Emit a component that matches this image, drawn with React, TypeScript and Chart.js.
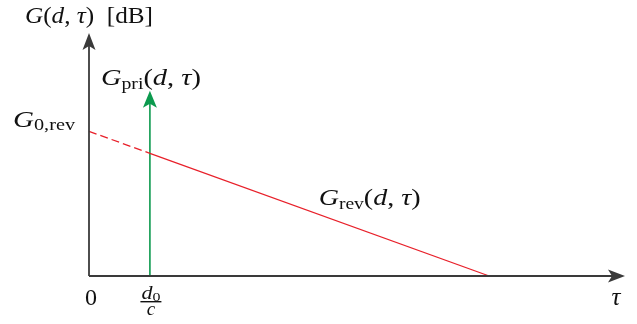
import React, { useEffect, useRef } from "react";
import { Chart, registerables } from "chart.js";

Chart.register(...registerables);

// Data (schematic units: tau in units of d0/c, gain in arbitrary dB units)
const revTau = [0, 1, 6.57];
const revGain = [10, 8.48, 0];
const priTau = [1, 1];
const priGain = [0, 12.8];
const axisTau = [0, 8.8];
const axisGain = [0, 16.8];
const xTickTau = [0, 1];

const RED = "#e8202a";
const GREEN = "#0c9a4e";
const AXIS = "#3a3a3a";
const SERIF = '"Liberation Serif", "DejaVu Serif", serif';

type Run = { t: string; it?: boolean; size?: number; dy?: number };

// draws runs starting at x (left) on baseline y; optional width to fit
function drawRuns(ctx: CanvasRenderingContext2D, x: number, y: number, runs: Run[], width?: number, align: "left" | "center" = "left") {
  const font = (r: Run) => `${r.it ? "italic " : ""}${r.size ?? 23}px ${SERIF}`;
  let total = 0;
  for (const r of runs) {
    ctx.font = font(r);
    total += ctx.measureText(r.t).width;
  }
  const sx = width ? width / total : 1;
  const w = total * sx;
  const left = align === "center" ? x - w / 2 : x;
  ctx.save();
  ctx.translate(left, y);
  ctx.scale(sx, 1);
  ctx.textBaseline = "alphabetic";
  ctx.textAlign = "left";
  let cx = 0;
  for (const r of runs) {
    ctx.font = font(r);
    ctx.fillText(r.t, cx, r.dy ?? 0);
    cx += ctx.measureText(r.t).width;
  }
  ctx.restore();
}

function arrowHead(ctx: CanvasRenderingContext2D, tx: number, ty: number, dir: "up" | "right", color: string, len = 17, half = 7, notch = 4) {
  ctx.save();
  ctx.fillStyle = color;
  ctx.beginPath();
  if (dir === "up") {
    ctx.moveTo(tx, ty);
    ctx.lineTo(tx - half, ty + len);
    ctx.lineTo(tx, ty + len - notch);
    ctx.lineTo(tx + half, ty + len);
  } else {
    ctx.moveTo(tx, ty);
    ctx.lineTo(tx - len, ty - half);
    ctx.lineTo(tx - len + notch, ty);
    ctx.lineTo(tx - len, ty + half);
  }
  ctx.closePath();
  ctx.fill();
  ctx.restore();
}

const SUB = 16;

const decorPlugin = {
  id: "decor",
  afterDatasetsDraw(chart: any) {
    const ctx: CanvasRenderingContext2D = chart.ctx;
    const xs = chart.scales.x;
    const ys = chart.scales.y;
    const X = (v: number) => xs.getPixelForValue(v);
    const Y = (v: number) => ys.getPixelForValue(v);
    ctx.save();
    // arrow heads
    arrowHead(ctx, X(axisTau[0]), Y(axisGain[1]), "up", AXIS, 17, 6.5, 4);
    arrowHead(ctx, X(axisTau[1]), Y(axisGain[0]), "right", AXIS, 17, 6.5, 4);
    arrowHead(ctx, X(priTau[1]), Y(priGain[1]), "up", GREEN, 17, 7, 4);

    ctx.fillStyle = "#111";
    // y-axis label
    drawRuns(ctx, X(0) - 64, Y(axisGain[1]) - 10, [
      { t: "G", it: true },
      { t: "(" },
      { t: "d", it: true },
      { t: ", " },
      { t: "τ", it: true },
      { t: ")  [dB]" },
    ], 128);
    // G_pri label
    drawRuns(ctx, X(priTau[0]) - 49, Y(priGain[1]) - 6, [
      { t: "G", it: true },
      { t: "pri", size: SUB, dy: 4 },
      { t: "(" },
      { t: "d", it: true },
      { t: ", " },
      { t: "τ", it: true },
      { t: ")" },
    ], 100);
    // G_0,rev label
    drawRuns(ctx, X(0) - 76, Y(revGain[0]) - 4, [
      { t: "G", it: true },
      { t: "0,rev", size: SUB, dy: 3 },
    ], 62);
    // G_rev label
    drawRuns(ctx, X(3.77), Y(0) - 71, [
      { t: "G", it: true },
      { t: "rev", size: SUB, dy: 4 },
      { t: "(" },
      { t: "d", it: true },
      { t: ", " },
      { t: "τ", it: true },
      { t: ")" },
    ], 102);
    // x tick labels
    drawRuns(ctx, X(xTickTau[0]) + 2, Y(0) + 29, [{ t: "0", size: 24 }], 12, "center");
    const fx = X(xTickTau[1]) + 1;
    drawRuns(ctx, fx, Y(0) + 23, [
      { t: "d", it: true, size: 18 },
      { t: "0", size: 13, dy: 2 },
    ], 19, "center");
    ctx.fillRect(fx - 10.5, Y(0) + 25, 21, 1.4);
    drawRuns(ctx, fx, Y(0) + 39, [{ t: "c", it: true, size: 19 }], undefined, "center");
    // tau label
    drawRuns(ctx, X(axisTau[1]) - 9, Y(0) + 29, [{ t: "τ", it: true, size: 25 }], undefined, "center");
    ctx.restore();
  },
};

export default function App() {
  const ref = useRef<HTMLCanvasElement>(null);
  useEffect(() => {
    if (!ref.current) return;
    const pts = (xs: number[], ys: number[]) => xs.map((x, i) => ({ x, y: ys[i] }));
    const chart = new Chart(ref.current, {
      type: "line",
      data: {
        datasets: [
          {
            data: pts([axisTau[0], axisTau[1] - 12 / 61], [0, 0]),
            borderColor: AXIS,
            borderWidth: 1.8,
            pointRadius: 0,
            clip: false,
          } as any,
          {
            data: pts([0, 0], [axisGain[0], axisGain[1] - 0.8]),
            borderColor: AXIS,
            borderWidth: 1.8,
            pointRadius: 0,
            clip: false,
          } as any,
          {
            data: pts(revTau, revGain),
            borderColor: RED,
            borderWidth: 1.3,
            pointRadius: 0,
            clip: false,
            segment: {
              borderDash: (c: any) => (c.p0DataIndex === 0 ? [8, 4] : undefined),
            },
          } as any,
          {
            data: pts(priTau, [priGain[0], priGain[1] - 0.8]),
            borderColor: GREEN,
            borderWidth: 1.6,
            pointRadius: 0,
            clip: false,
          } as any,
        ],
      },
      options: {
        animation: false,
        responsive: false,
        events: [],
        layout: { padding: { left: 89, right: 12, top: 33, bottom: 48 } },
        plugins: { legend: { display: false }, tooltip: { enabled: false } },
        scales: {
          x: { type: "linear", min: axisTau[0], max: axisTau[1], display: false },
          y: { type: "linear", min: axisGain[0], max: axisGain[1], display: false },
        },
      },
      plugins: [decorPlugin],
    });
    return () => chart.destroy();
  }, []);
  return (
    <div style={{ position: "absolute", left: 0, top: 0, width: 637, height: 324, background: "#fff" }}>
      <canvas ref={ref} width={637} height={324} />
    </div>
  );
}
